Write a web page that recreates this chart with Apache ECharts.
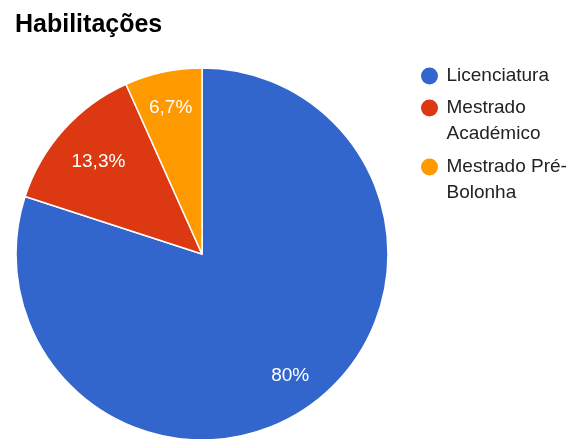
<!DOCTYPE html>
<html>
<head>
<meta charset="utf-8">
<script src="https://cdn.jsdelivr.net/npm/echarts@6/dist/echarts.min.js"></script>
<style>
  html, body { margin: 0; padding: 0; background: #fff; }
  #chart { width: 575px; height: 439px; }
</style>
</head>
<body>
<div id="chart"></div>
<script>
// Habilitações: share of each qualification (percent)
const categories = ['Licenciatura', 'Mestrado Académico', 'Mestrado Pré-Bolonha'];
const shares = [80, 13.3, 6.7];
const colors = ['#3366cc', '#dc3912', '#ff9900'];
// legend text, broken over lines
const legendLines = {
  'Licenciatura': ['Licenciatura'],
  'Mestrado Académico': ['Mestrado', 'Académico'],
  'Mestrado Pré-Bolonha': ['Mestrado Pré-', 'Bolonha']
};

const FONT = 'Liberation Sans, Arial, sans-serif';
const CENTER = [202, 254];
const R = 186;
const LINE_H = 26;
// vertical centre of each legend marker
const legendCenters = [76, 108, 167];

const pieData = categories.map((name, i) => ({
  name: name,
  value: shares[i],
  itemStyle: { color: colors[i] }
}));

function pctText(v) {
  let s = (Math.round(v * 10) / 10).toString();
  return s.replace('.', ',') + '%';
}

// the marker is centred on the text block, so pad with blank lines above
// to keep it level with the first line
const legends = categories.map((name, i) => {
  const lines = legendLines[name];
  const pad = lines.length - 1;
  const text = new Array(pad).fill(' ').concat(lines).join('\n');
  const total = (lines.length + pad) * LINE_H;
  return {
    data: [name],
    orient: 'vertical',
    left: 419,
    top: legendCenters[i] - total / 2,
    padding: 0,
    icon: 'circle',
    itemWidth: 24,
    itemHeight: 19,
    itemGap: 0,
    selectedMode: false,
    formatter: () => text,
    textStyle: {
      fontFamily: FONT,
      fontSize: 19,
      color: '#222222',
      lineHeight: LINE_H
    }
  };
});

const chart = echarts.init(document.getElementById('chart'), null, { renderer: 'canvas' });
chart.setOption({
  animation: false,
  backgroundColor: '#ffffff',
  title: {
    text: 'Habilitações',
    left: 10,
    top: 8,
    textStyle: { fontFamily: FONT, fontSize: 25, fontWeight: 'bold', color: '#000000' }
  },
  legend: legends,
  series: [
    {
      type: 'pie',
      center: CENTER,
      radius: [0, R],
      startAngle: 90,
      clockwise: true,
      silent: true,
      label: { show: false },
      labelLine: { show: false },
      itemStyle: { borderColor: '#ffffff', borderWidth: 1.5 },
      data: pieData
    },
    {
      // transparent ring that carries the percentage labels
      type: 'pie',
      center: CENTER,
      radius: [108, R],
      startAngle: 90,
      clockwise: true,
      silent: true,
      labelLine: { show: false },
      itemStyle: { color: 'rgba(0,0,0,0)' },
      label: {
        show: true,
        position: 'inside',
        fontFamily: FONT,
        fontSize: 19,
        color: '#ffffff',
        formatter: p => pctText(p.value)
      },
      data: categories.map((name, i) => ({
        name: name,
        value: shares[i],
        label: i === 1 ? { offset: [8, 8] } : undefined
      }))
    }
  ]
});
</script>
</body>
</html>
